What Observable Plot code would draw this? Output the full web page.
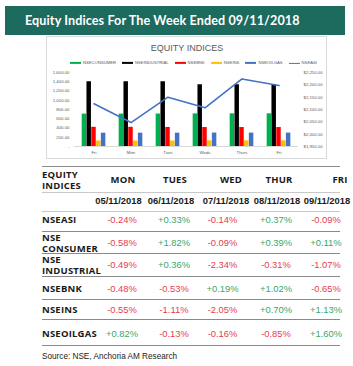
<!DOCTYPE html>
<html><head><meta charset="utf-8">
<script src="https://cdn.jsdelivr.net/npm/d3@7"></script>
<script src="https://cdn.jsdelivr.net/npm/@observablehq/plot@0.6"></script>
<style>
html,body{margin:0;padding:0;background:#fff;}
#root{position:relative;width:353px;height:366px;overflow:hidden;font-family:"Liberation Sans",Arial,sans-serif;}
.abs{position:absolute;white-space:nowrap;line-height:1;}
.banner{left:5px;top:6px;width:340px;height:29px;background:#1d6a5e;}
.banner span{position:absolute;left:20px;top:50%;transform:translateY(-50%);color:#fff;font-family:Lato,"Open Sans",sans-serif;font-weight:700;font-size:12.6px;letter-spacing:0.1px;line-height:1;}
.box{left:46px;top:36px;width:279px;height:121px;border:1px solid #d9d9d9;background:#fff;}
.ctitle{left:187px;top:48px;transform:translate(-50%,-50%);font-size:9px;color:#595959;}
.legend{left:70px;top:63px;transform:translateY(-50%);display:flex;align-items:center;font-size:4.2px;color:#595959;}
.legend .it{display:flex;align-items:center;margin-right:6px;}
.legend .sw{width:11px;height:2.4px;margin-right:2px;}
.legend .ln{width:11px;height:1.2px;margin-right:2px;}
#chart{left:47px;top:66px;}
.hl{height:1px;background:#8a8a8a;left:42px;width:298px;}
.hl.light{background:#c8c8c8;}
.th{font-family:"Open Sans",sans-serif;font-weight:700;color:#1a1a1a;font-size:9.5px;letter-spacing:0.2px;}
.two{white-space:pre;line-height:11.2px;}
.dt{font-family:"Liberation Sans",Arial,sans-serif;font-weight:700;color:#1a1a1a;font-size:9.4px;}
.val{font-size:9.4px;}
.src{left:42px;top:357px;transform:translateY(-50%);font-size:8.2px;color:#222;}
</style></head><body><div id="root"></div>
<script>
// ---- chart data ----
const days = ["Fri","Mon","Tues","Weds","Thurs","Fri"];
const seriesNames = ["NSECONSUMER","NSEINDUSTRIAL","NSEBNK","NSEINS","NSEOILGAS"];
const nseConsumer   = [700, 700, 702, 705, 706, 707];
const nseIndustrial = [1400, 1400, 1400, 1335, 1335, 1335];
const nseBnk        = [415, 415, 412, 410, 410, 410];
const nseIns        = [118, 118, 118, 122, 122, 122];
const nseOilgas     = [288, 288, 288, 290, 290, 290];
const lineName = "NSEASI";
const nseAsi        = [2123, 2047, 2150, 2107, 2224, 2197];
const leftTicks  = [0, 200, 400, 600, 800, 1000, 1200, 1400, 1600];
const rightTicks = [1950, 2000, 2050, 2100, 2150, 2200, 2250];

// ---- table data ----
const tableHeader = ["EQUITY", "INDICES"];
const tableDays  = ["MON","TUES","WED","THUR","FRI"];
const tableDates = ["05/11/2018","06/11/2018","07/11/2018","08/11/2018","09/11/2018"];
const tableRowLabels = [["NSEASI"],["NSE","CONSUMER"],["NSE","INDUSTRIAL"],["NSEBNK"],["NSEINS"],["NSEOILGAS"]];
const rowNseasi     = [-0.24, 0.33, -0.14, 0.37, -0.09];
const rowConsumer   = [-0.58, 1.82, -0.09, 0.39, 0.11];
const rowIndustrial = [-0.49, 0.36, -2.34, -0.31, -1.07];
const rowBnk        = [-0.48, -0.53, 0.19, 1.02, -0.65];
const rowIns        = [-0.55, -1.11, -2.05, 0.70, 1.13];
const rowOilgas     = [0.82, -0.13, -0.16, -0.85, 1.60];
const tableTitle = "Equity Indices For The Week Ended 09/11/2018";
const sourceText = "Source: NSE, Anchoria AM Research";

const root = document.getElementById("root");
function add(cls, text, style) {
  const el = document.createElement("div");
  el.className = "abs " + cls;
  if (text != null) el.textContent = text;
  if (style) Object.assign(el.style, style);
  root.appendChild(el);
  return el;
}

// banner
const banner = add("banner");
const bs = document.createElement("span"); bs.textContent = tableTitle; banner.appendChild(bs);
// chart box
add("box");
add("ctitle", "EQUITY INDICES");

const colors = ["#00b050", "#000000", "#ff0000", "#ffc000", "#4472c4"];
const lineColor = "#4472c4";
const legend = add("legend");
seriesNames.concat([lineName]).forEach((n, k) => {
  const it = document.createElement("div"); it.className = "it";
  const sw = document.createElement("div");
  sw.className = k < 5 ? "sw" : "ln";
  sw.style.background = k < 5 ? colors[k] : lineColor;
  const t = document.createElement("span"); t.textContent = n;
  it.appendChild(sw); it.appendChild(t); legend.appendChild(it);
});

// chart
const keys = ["consumer","industrial","bnk","ins","oilgas"];
const seriesArrays = [nseConsumer, nseIndustrial, nseBnk, nseIns, nseOilgas];
const chartData = days.map((d, i) => {
  const o = {i, day: d, asi: nseAsi[i]};
  keys.forEach((k, j) => o[k] = seriesArrays[j][i]);
  return o;
});
const W = 278, H = 92, mL = 27, mR = 27, mT = 6, mB = 12;
const bw = (W - mL - mR) / days.length;
const barW = 4.8, groupOff = (bw - barW * 5) / 2;
const yMax = leftTicks[leftTicks.length - 1];
const rMin = rightTicks[0], rMax = rightTicks[rightTicks.length - 1];
const toLeft = v => (v - rMin) / (rMax - rMin) * yMax;
const fromLeft = y => Math.round(rMin + y / yMax * (rMax - rMin));
const fmtL = d3.format(",.2f");

const marks = [Plot.ruleY([0], {stroke: "#d9d9d9", strokeWidth: 1})];
keys.forEach((k, j) => marks.push(Plot.barY(chartData, {
  x: "i", y: k, fill: colors[j],
  insetLeft: groupOff + j * barW, insetRight: bw - groupOff - (j + 1) * barW
})));
marks.push(Plot.line(chartData, {x: "i", y: d => toLeft(d.asi), stroke: lineColor, strokeWidth: 1.6}));
marks.push(Plot.axisY({ticks: leftTicks, anchor: "left", tickSize: 0, tickPadding: 5, tickFormat: d => d === 0 ? "-" : fmtL(d), label: null}));
marks.push(Plot.axisY(rightTicks.map(toLeft), {anchor: "right", tickSize: 0, tickPadding: 5, tickFormat: d => "$" + fmtL(fromLeft(d)), label: null}));
marks.push(Plot.axisX({tickSize: 0, tickPadding: 4, tickFormat: i => days[i], label: null}));

const svg = Plot.plot({
  width: W, height: H, marginLeft: mL, marginRight: mR, marginTop: mT, marginBottom: mB,
  x: {type: "band", domain: d3.range(days.length), padding: 0, label: null},
  y: {domain: [0, yMax], label: null},
  style: {fontSize: "4.3px", color: "#595959", fontFamily: "'Liberation Sans', Arial, sans-serif", background: "transparent", overflow: "visible"},
  marks
});
svg.id = "chart";
svg.classList.add("abs");
svg.style.position = "absolute";
svg.style.left = "47px"; svg.style.top = "66px";
root.appendChild(svg);

// table
const lines = [[165.5, false], [191.5, true], [210.5, true], [231, false], [253, false], [276, false], [299, false], [318.5, false], [345, false]];
lines.forEach(([y, light]) => add("hl" + (light ? " light" : ""), null, {top: y + "px"}));

add("th two", tableHeader.join("\n"), {left: "42px", top: "180px", transform: "translateY(-50%)"});
const headX = [123, 175, 231, 279, 340];
tableDays.forEach((d, c) => add("th", d, {left: headX[c] + "px", top: "180px", transform: "translate(-50%,-50%)"}));
const dateX = [118.5, 171, 226, 277, 327];
tableDates.forEach((d, c) => add("dt", d, {left: dateX[c] + "px", top: "201px", transform: "translate(-50%,-50%)"}));

const rowValues = [rowNseasi, rowConsumer, rowIndustrial, rowBnk, rowIns, rowOilgas];
const rowY = [220, 242.5, 264.5, 289, 310, 334];
const valX = [122, 174, 222.5, 276, 326];
const fmtP = v => (v > 0 ? "+" : "-") + Math.abs(v).toFixed(2) + "%";
tableRowLabels.forEach((lab, r) => {
  add("th" + (lab.length > 1 ? " two" : ""), lab.join("\n"), {left: "42px", top: rowY[r] + "px", transform: "translateY(-50%)"});
  rowValues[r].forEach((v, c) => add("val", fmtP(v), {
    left: valX[c] + "px", top: rowY[r] + "px", transform: "translate(-50%,-50%)",
    color: v > 0 ? "#36a867" : "#e43b52"
  }));
});
add("src", sourceText);
</script></body></html>
